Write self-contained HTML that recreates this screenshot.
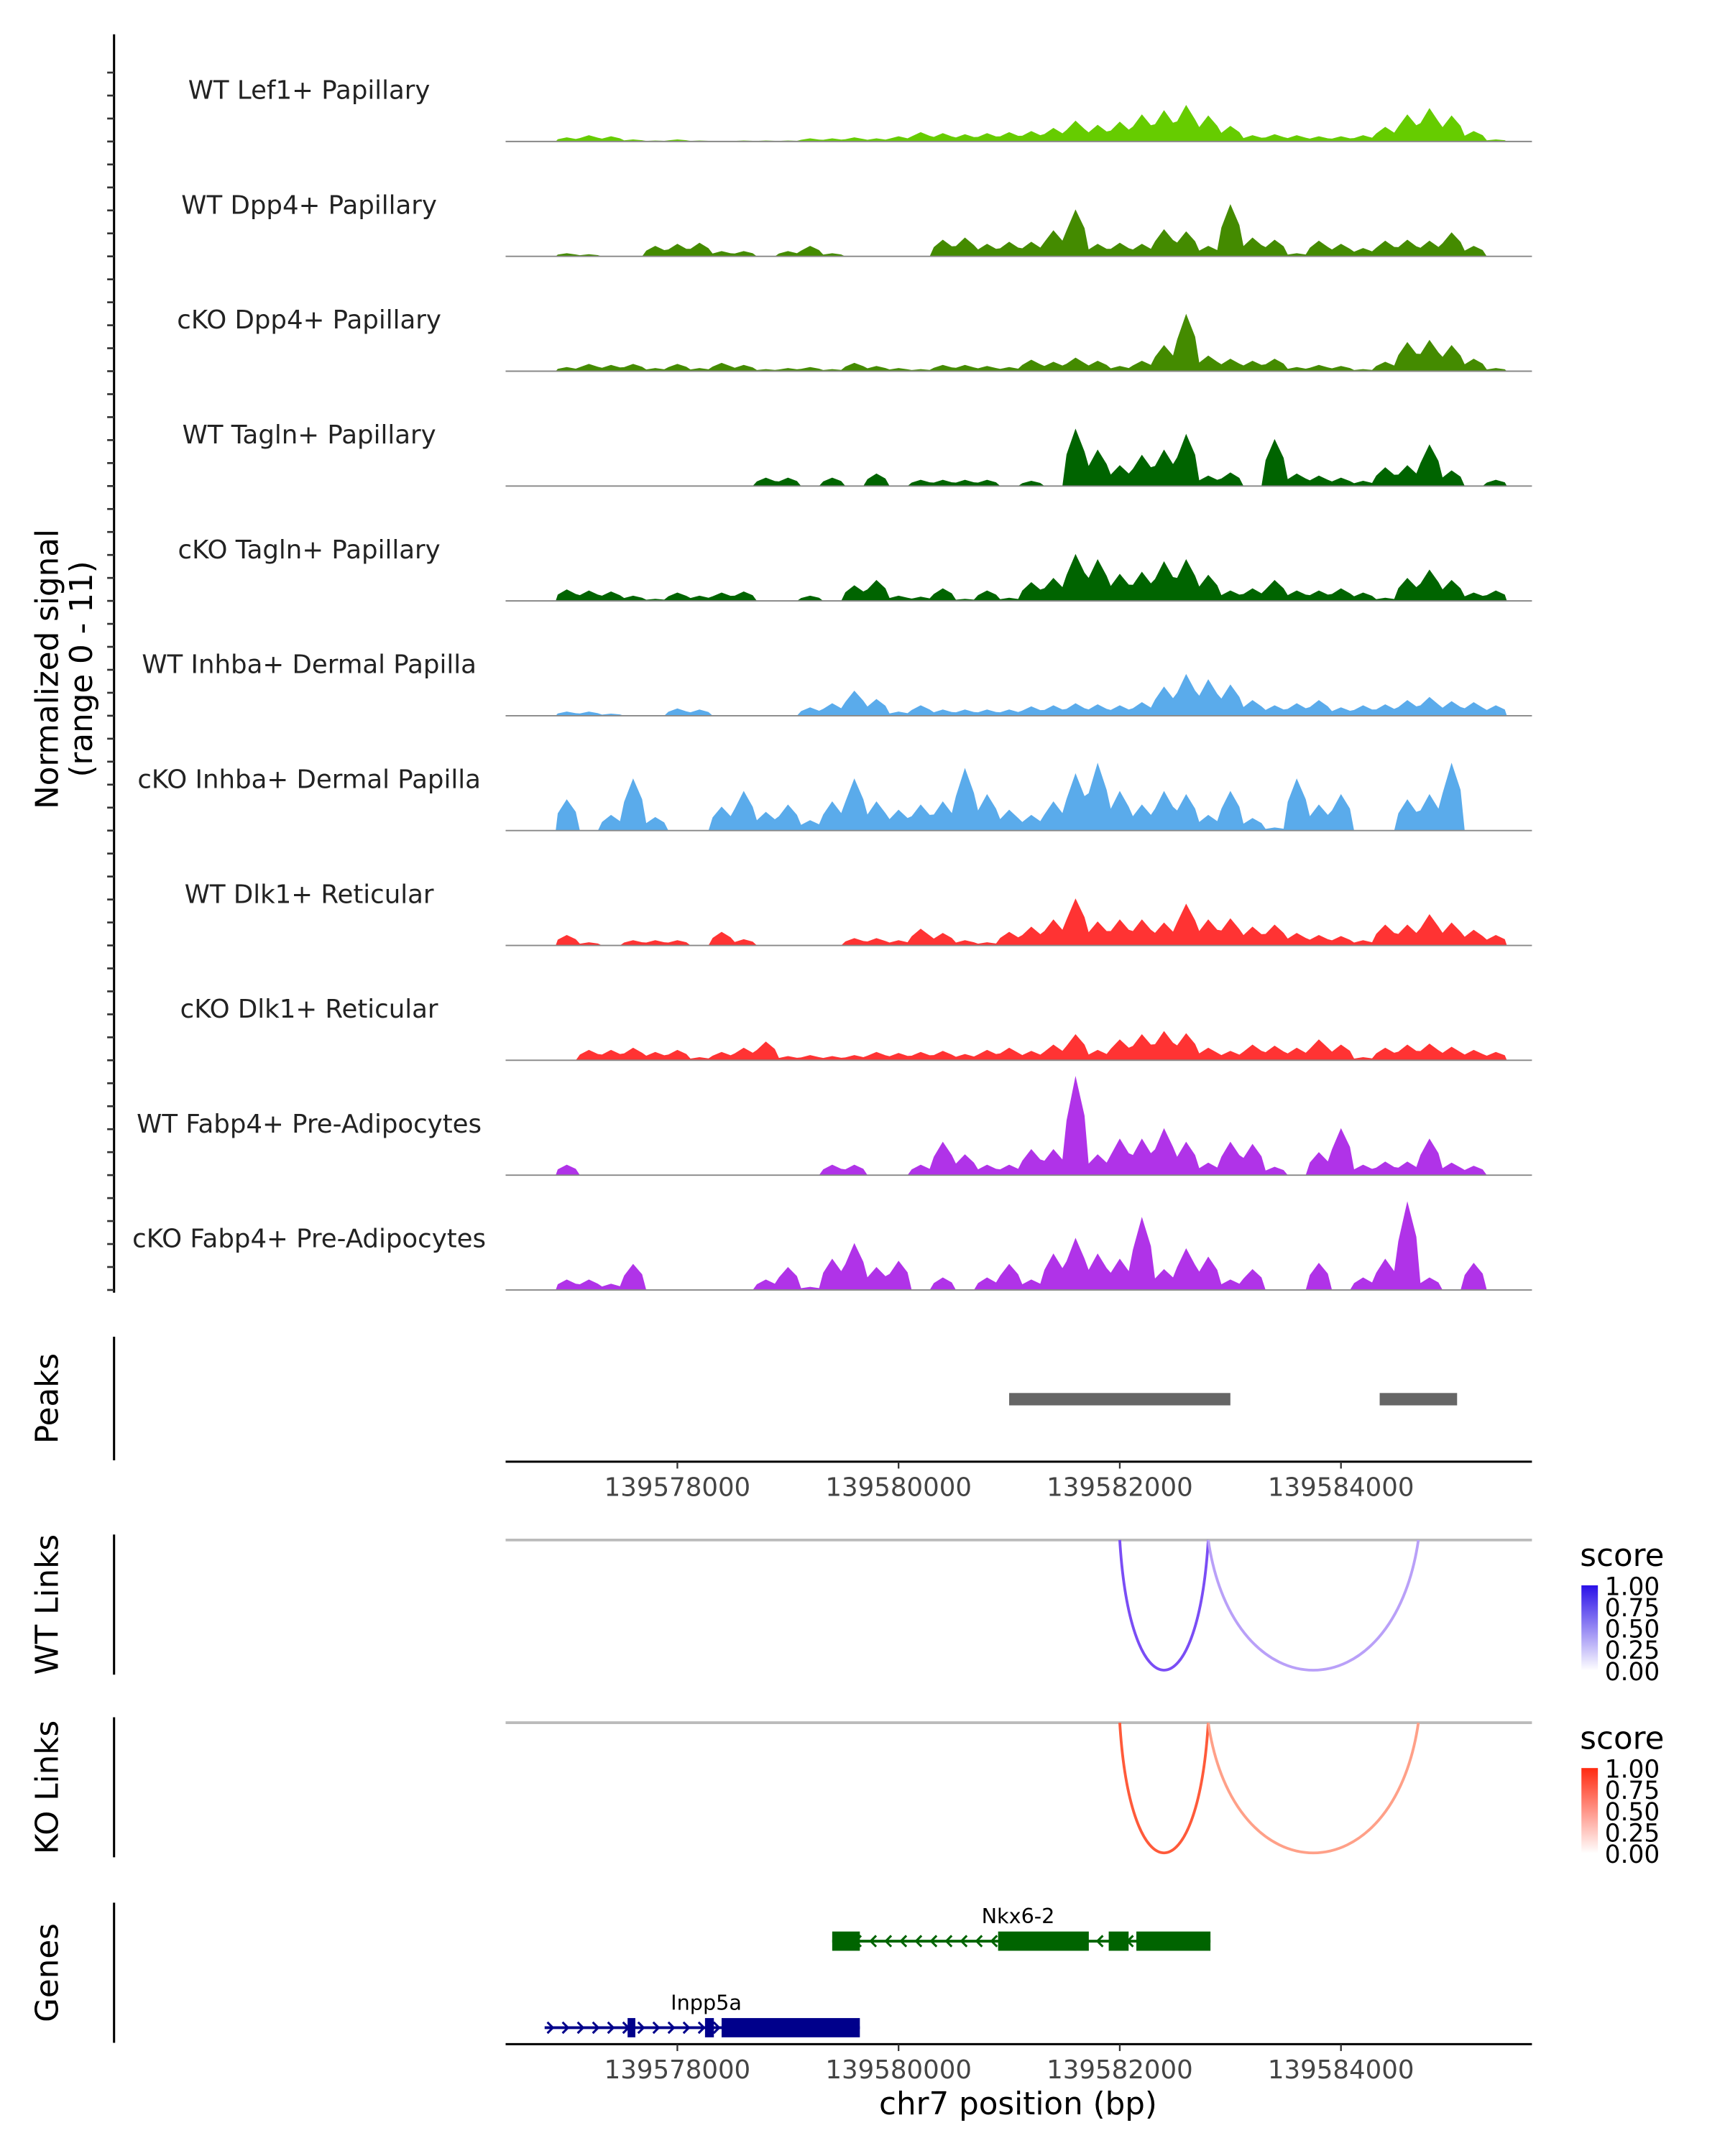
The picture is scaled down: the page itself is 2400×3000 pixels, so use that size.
<!DOCTYPE html>
<html><head><meta charset="utf-8"><style>
html,body{margin:0;padding:0;background:#fff}
svg{display:block}
text{font-family:"DejaVu Sans","Liberation Sans",sans-serif}
</style></head><body>
<svg id="chart" width="2400" height="3000" viewBox="0 0 1255.5 1569.4" xmlns="http://www.w3.org/2000/svg"></svg>
<script>
// ---- data ----
const binStart = 139576900;
const binWidth = 200;
const trackNames = ["WT Lef1+ Papillary","WT Dpp4+ Papillary","cKO Dpp4+ Papillary","WT Tagln+ Papillary","cKO Tagln+ Papillary","WT Inhba+ Dermal Papilla","cKO Inhba+ Dermal Papilla","WT Dlk1+ Reticular","cKO Dlk1+ Reticular","WT Fabp4+ Pre-Adipocytes","cKO Fabp4+ Pre-Adipocytes"];
const trackColors = ["#66cc00","#448b00","#448b00","#006400","#006400","#5aabeb","#5aabeb","#ff3333","#ff3333","#b033e8","#b033e8"];
const lef1WT = [0.4,0.6,0.5,0.2,0.1,0.2,0.1,0,0.1,0.1,0.1,0.3,0.3,0.4,0.3,0.5,0.9,0.8,0.7,0.8,0.9,1.0,1.3,2.0,1.6,1.9,2.6,3.0,3.5,2.5,1.5,0.6,0.7,0.6,0.5,0.5,0.6,1.4,2.6,3.2,2.5,1.0,0.2];
const dpp4WT = [0.3,0.2,0,0,1.0,1.2,1.3,0.5,0.5,0,0.5,1.0,0.3,0,0,0,0,1.6,1.8,1.2,1.4,1.4,2.5,4.5,1.2,1.3,1.2,2.6,2.4,1.0,5.0,1.8,1.6,0.3,1.5,1.2,0.8,1.5,1.6,1.5,2.3,1.0,0];
const dpp4KO = [0.4,0.7,0.6,0.7,0.3,0.7,0.3,0.8,0.6,0.2,0.3,0.4,0.2,0.8,0.5,0.3,0.2,0.6,0.6,0.5,0.4,1.1,0.9,1.3,1.0,0.5,1.0,2.5,5.5,1.5,1.2,1.0,1.2,0.4,0.6,0.5,0.2,0.9,2.8,3.0,2.5,1.2,0.3];
const taglnWT = [0,0,0,0,0,0,0,0,0,0.8,0.8,0,0.8,0,1.2,0,0.6,0.6,0.6,0.6,0,0.5,0,5.5,3.5,2.0,3.0,3.5,5.0,1.0,1.3,0,4.5,1.2,1.0,0.8,0.5,1.8,2.0,4.0,1.5,0,0.6];
const taglnKO = [1.1,1.0,0.9,0.5,0.2,0.8,0.5,0.8,0.9,0,0,0.5,0,1.5,2.0,0.5,0.4,1.2,0.2,1.0,0.3,1.8,2.2,4.5,4.0,2.6,2.8,3.8,4.0,2.5,1.0,1.2,2.0,1.0,1.0,1.2,0.8,0.3,2.2,3.0,2.0,0.8,1.0];
const inhbaWT = [0.4,0.4,0.2,0,0,0.7,0.6,0,0,0,0,0.8,1.2,2.4,1.6,0.4,1.0,0.6,0.6,0.6,0.6,0.9,1.0,1.2,1.1,1.0,1.3,2.8,4.0,3.5,3.0,1.5,1.0,1.2,1.5,0.8,1.0,1.1,1.5,1.8,1.4,1.3,1.0];
const inhbaKO = [3.0,0,1.5,5.0,1.3,0,0,2.3,3.8,1.8,2.5,1.0,2.8,5.0,2.8,2.0,2.5,2.8,6.0,3.5,2.0,1.5,2.8,5.5,6.5,3.8,2.5,3.8,3.5,1.5,3.8,1.2,0.3,5.0,2.5,3.5,0,0,3.0,3.5,6.5,0,0];
const dlk1WT = [1.0,0.3,0,0.5,0.5,0.5,0,1.3,0.6,0,0,0,0,0.7,0.7,0.5,1.6,1.2,0.5,0.3,1.3,1.8,2.5,4.5,2.3,2.5,2.5,2.2,4.0,2.5,2.6,1.8,2.0,1.2,1.0,0.9,0.5,2.0,2.0,3.0,2.2,1.5,1.0];
const dlk1KO = [0,1.0,1.0,1.2,0.8,1.0,0.3,0.8,1.2,1.8,0.4,0.5,0.4,0.5,0.8,0.7,0.8,0.9,0.6,1.0,1.2,0.9,1.5,2.5,1.0,2.0,2.5,2.8,2.6,1.2,0.9,1.5,1.4,1.2,2.0,1.5,0.3,1.2,1.5,1.6,1.3,1.0,0.8];
const fabp4WT = [1.0,0,0,0,0,0,0,0,0,0,0,0,1.0,1.0,0,0,1.0,3.2,2.0,1.0,1.0,2.5,2.5,9.5,2.0,3.5,3.5,4.5,3.2,1.2,3.2,3.0,0.8,0,2.2,4.5,1.0,1.3,1.3,3.5,1.2,0.9,0];
const fabp4KO = [1.0,1.0,0.6,2.5,0,0,0,0,0,1.0,2.2,0.3,3.0,4.5,2.2,2.8,0,1.2,0,1.2,2.5,1.0,3.5,5.0,3.5,3.0,7.0,2.0,4.0,3.2,1.0,2.0,0,0,2.6,0,1.2,3.0,8.5,1.2,0,2.6,0];
const trackValues = [lef1WT,dpp4WT,dpp4KO,taglnWT,taglnKO,inhbaWT,inhbaKO,dlk1WT,dlk1KO,fabp4WT,fabp4KO];
const peakStarts = [139581000,139584350];
const peakEnds = [139583000,139585050];
const linkStarts = [139582000,139582800];
const linkEnds = [139582800,139584700];
const wtLinkScores = [0.75,0.4];
const koLinkScores = [0.75,0.4];
const xTicks = [139578000,139580000,139582000,139584000];
const legendTicks = ["1.00","0.75","0.50","0.25","0.00"];

// ---- scales ----
const X0 = 368, X1 = 1115;
const pxPerBp = 161/2000;
function xs(bp){ return 493 + (bp-139578000)*pxPerBp; }
const trackBase0 = 103, trackStep = 83.6, yUnit = 7.6;
function ys(v,ti){ return trackBase0 + ti*trackStep - v*yUnit; }

const svg = document.getElementById('chart');
const NS = "http://www.w3.org/2000/svg";
function mk(tag, attrs, parent){
  const e = document.createElementNS(NS, tag);
  for (const k in attrs) e.setAttribute(k, attrs[k]);
  (parent||svg).appendChild(e);
  return e;
}
function txt(s, attrs, parent){ const t = mk('text', attrs, parent); t.textContent = s; return t; }

// left axis for tracks
let ax = mk('line',{x1:83,y1:25,x2:83,y2:941,stroke:'#000','stroke-width':1.6});


for (let y = trackBase0 + 10*trackStep; y >= 38; y -= trackStep/5){
  let t = mk('line',{x1:78,y1:y,x2:83,y2:y,stroke:'#333','stroke-width':1.4});
  
  
}
let yt = txt('Normalized signal',{x:0,y:0,'font-size':22.8,'text-anchor':'middle',fill:'#000',transform:'translate(42,487) rotate(-90)'});


let yt2 = txt('(range 0 - 11)',{x:0,y:0,'font-size':22.8,'text-anchor':'middle',fill:'#000',transform:'translate(67,487) rotate(-90)'});



// tracks
trackValues.forEach((vals, ti) => {
  const base = ys(0,ti);
  const g = mk('g',{});
  
  
  let d = 'M' + xs(binStart) + ',' + base;
  vals.forEach((v,i) => {
    const xa = xs(binStart + i*binWidth), xb = xs(binStart + (i+1)*binWidth);
    const xm = (xa+xb)/2;
    d += ' L' + (xa+1.5) + ',' + ys(v*0.55,ti) + ' L' + xm + ',' + ys(v,ti) + ' L' + (xb-1.5) + ',' + ys(v*0.6,ti);
  });
  d += ' L' + xs(binStart + vals.length*binWidth) + ',' + base + ' Z';
  const p = mk('path',{d:d,fill:trackColors[ti],stroke:'none'},g);
  
  
  const bl = mk('line',{x1:X0,y1:base,x2:X1,y2:base,stroke:'#888','stroke-width':1},g);
  
  
  const lb = txt(trackNames[ti],{x:225,y:base-31,'font-size':18.6,'text-anchor':'middle',fill:'#222'},g);
  
  
});

// peaks panel
let pa = mk('line',{x1:83,y1:973,x2:83,y2:1063,stroke:'#000','stroke-width':1.6});


let pt = txt('Peaks',{x:0,y:0,'font-size':22.8,'text-anchor':'middle',transform:'translate(42,1018) rotate(-90)'});


peakStarts.forEach((s,i) => {
  const r = mk('rect',{x:xs(s),y:1014,width:xs(peakEnds[i])-xs(s),height:9,fill:'#666'});
  
  
});
function xAxis(y, name){
  const l = mk('line',{x1:X0,y1:y,x2:X1,y2:y,stroke:'#000','stroke-width':1.6});
  
  
  xTicks.forEach(t => {
    const tk = mk('line',{x1:xs(t),y1:y,x2:xs(t),y2:y+5,stroke:'#333','stroke-width':1.2});
    
    
    const tl = txt(String(t),{x:xs(t),y:y+25,'font-size':18.6,'text-anchor':'middle',fill:'#444'});
    
    
  });
}
xAxis(1064,'peaks-x-axis');

// links
function linkPanel(top, title, scores, grad, c0, c1, gid){
  const a = mk('line',{x1:83,y1:top-4,x2:83,y2:top+98,stroke:'#000','stroke-width':1.6});
  
  
  const t = txt(title,{x:0,y:0,'font-size':22.8,'text-anchor':'middle',transform:'translate(42,'+(top+47)+') rotate(-90)'});
  
  
  const gl = mk('line',{x1:X0,y1:top,x2:X1,y2:top,stroke:'#bbb','stroke-width':2});
  
  
  linkStarts.forEach((s,i) => {
    const xa = xs(s), xb = xs(linkEnds[i]);
    const depth = 95;
    const col = scores[i] > 0.6 ? c0 : c1;
    const p = mk('path',{d:'M'+xa+','+top+' C'+(xa+(xb-xa)*0.12)+','+(top+depth*1.33)+' '+(xb-(xb-xa)*0.12)+','+(top+depth*1.33)+' '+xb+','+top,fill:'none',stroke:col,'stroke-width':2});
    
    
  });
  const lg = mk('g',{});
  
  
  txt('score',{x:1150,y:top+19,'font-size':22.8,fill:'#000'},lg);
  const defs = mk('defs',{},lg);
  const g = mk('linearGradient',{id:gid,x1:0,y1:0,x2:0,y2:1},defs);
  mk('stop',{offset:0,'stop-color':grad},g);
  mk('stop',{offset:1,'stop-color':'#ffffff'},g);
  mk('rect',{x:1151,y:top+33,width:12,height:62,fill:'url(#'+gid+')'},lg);
  legendTicks.forEach((s,i) => {
    txt(s,{x:1168,y:top+40+i*15.5,'font-size':18,fill:'#000'},lg);
  });
}
linkPanel(1121,'WT Links',wtLinkScores,'#2a10e8','#7a4df5','#b9a0f8','gw');
linkPanel(1254,'KO Links',koLinkScores,'#ff2a10','#ff5a3a','#ffa088','gk');

// genes
let ga = mk('line',{x1:83,y1:1385,x2:83,y2:1487,stroke:'#000','stroke-width':1.6});


let gt = txt('Genes',{x:0,y:0,'font-size':22.8,'text-anchor':'middle',transform:'translate(42,1436) rotate(-90)'});


const nkxExonStarts = [139579400,139580900,139581900,139582150];
const nkxExonEnds = [139579650,139581720,139582080,139582820];
const inpExonStarts = [139577550,139578250,139578400];
const inpExonEnds = [139577620,139578330,139579650];
function gene(y, s, e, es, ee, col, dir, label, lx, name){
  const g = mk('g',{});
  
  
  mk('line',{x1:xs(s),y1:y,x2:xs(e),y2:y,stroke:col,'stroke-width':2},g);
  for (let x = xs(s)+6; x < xs(e)-4; x += 11){
    const d = dir<0 ? 'M'+(x+4)+','+(y-4)+' L'+x+','+y+' L'+(x+4)+','+(y+4) : 'M'+(x-4)+','+(y-4)+' L'+x+','+y+' L'+(x-4)+','+(y+4);
    mk('path',{d:d,fill:'none',stroke:col,'stroke-width':1.6},g);
  }
  es.forEach((a,i) => mk('rect',{x:xs(a),y:y-7,width:xs(ee[i])-xs(a),height:14,fill:col},g));
  txt(label,{x:lx,y:y-13,'font-size':15,'text-anchor':'middle',fill:'#000'},g);
}
gene(1413,139579400,139582820,nkxExonStarts,nkxExonEnds,'#006400',-1,'Nkx6-2',741,'gene-nkx6-2');
gene(1476,139576800,139579650,inpExonStarts,inpExonEnds,'#00008b',1,'Inpp5a',514,'gene-inpp5a');
xAxis(1488,'genes-x-axis');
let xt = txt('chr7 position (bp)',{x:741,y:1539,'font-size':22.8,'text-anchor':'middle',fill:'#000'});


</script>
</body></html>
